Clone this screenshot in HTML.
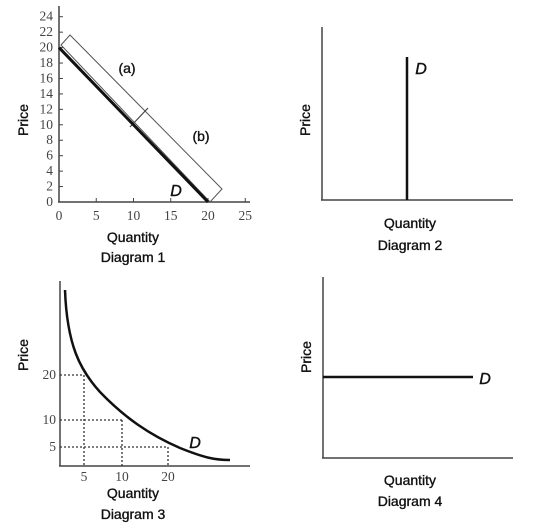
<!DOCTYPE html>
<html><head><meta charset="utf-8"><style>
html,body{margin:0;padding:0;background:#fff;}
svg{display:block;}
.ax{stroke:#444;stroke-width:1.5;fill:none}
.t{font-family:"Liberation Serif",serif;font-size:13.5px;fill:#444}
.l{font-family:"Liberation Sans",sans-serif;font-size:14px;fill:#111;stroke:#111;stroke-width:0.35}
.d{font-family:"Liberation Sans",sans-serif;font-size:16px;font-style:italic;fill:#111;stroke:#111;stroke-width:0.4}
</style></head><body>
<svg id="c" width="538" height="531" xmlns="http://www.w3.org/2000/svg">
<g id="d1">
<line class="ax" x1="59" y1="6" x2="59" y2="202"/>
<line class="ax" x1="58" y1="202" x2="250" y2="202"/>
<polygon points="61,45 70,35 222,189 210,202" fill="none" stroke="#555" stroke-width="1"/>
<line x1="130" y1="127" x2="148" y2="108" stroke="#444" stroke-width="1.2"/>
<text class="l" x="127" y="73" text-anchor="middle">(a)</text>
<text class="l" x="201" y="141" text-anchor="middle">(b)</text>
<text class="d" x="176" y="196" text-anchor="middle">D</text>
<text class="l" transform="translate(28,120) rotate(-90)" text-anchor="middle">Price</text>
<text class="l" x="133" y="242" text-anchor="middle">Quantity</text>
<text class="l" x="133" y="262" text-anchor="middle">Diagram 1</text>
</g>
<g>
<line class="ax" x1="322" y1="27" x2="322" y2="200"/>
<line class="ax" x1="321" y1="200" x2="513" y2="200"/>
<line x1="407" y1="57" x2="407" y2="200" stroke="#111" stroke-width="2.5"/>
<text class="d" x="421" y="74" text-anchor="middle">D</text>
<text class="l" transform="translate(310,120) rotate(-90)" text-anchor="middle">Price</text>
<text class="l" x="410" y="228" text-anchor="middle">Quantity</text>
<text class="l" x="410" y="250" text-anchor="middle">Diagram 2</text>
</g>
<g id="d3">
<line class="ax" x1="60" y1="281" x2="60" y2="466"/>
<line class="ax" x1="59" y1="466" x2="250" y2="466"/>
<path d="M65,290 C67,345 80,370 100,392 C125,418 150,435 180,448 C205,458 215,460 230,460" fill="none" stroke="#111" stroke-width="2.5"/>
<text class="d" x="195" y="448" text-anchor="middle">D</text>
<text class="l" transform="translate(28,355) rotate(-90)" text-anchor="middle">Price</text>
<text class="l" x="133" y="498" text-anchor="middle">Quantity</text>
<text class="l" x="133" y="519" text-anchor="middle">Diagram 3</text>
</g>
<g>
<line class="ax" x1="323" y1="277" x2="323" y2="458"/>
<line class="ax" x1="322" y1="458" x2="513" y2="458"/>
<line x1="323" y1="377" x2="473" y2="377" stroke="#111" stroke-width="2.5"/>
<text class="d" x="485" y="384" text-anchor="middle">D</text>
<text class="l" transform="translate(311,357) rotate(-90)" text-anchor="middle">Price</text>
<text class="l" x="410" y="485" text-anchor="middle">Quantity</text>
<text class="l" x="410" y="506" text-anchor="middle">Diagram 4</text>
</g>
</svg>
<script>
var d1XTicks = [0, 5, 10, 15, 20, 25];
var d1YTicks = [0, 2, 4, 6, 8, 10, 12, 14, 16, 18, 20, 22, 24];
var d1DemandQ = [0, 20];
var d1DemandP = [20, 0];
var d3PointsQ = [5, 10, 20];
var d3PointsP = [20, 10, 5];
var d3XTickLabels = ["5", "10", "20"];
var d3YTickLabels = ["20", "10", "5"];

var NS = "http://www.w3.org/2000/svg";
function x1s(v){return 59 + v*7.45;}
function y1s(v){return 202 - v*7.72;}
var d3XMap = {5:84, 10:122, 20:168};
var d3YMap = {20:375, 10:420, 5:447};
function x3s(v){return d3XMap[v];}
function y3s(v){return d3YMap[v];}
function mk(tag, attrs, parent){var e=document.createElementNS(NS,tag);for(var k in attrs)e.setAttribute(k,attrs[k]);parent.appendChild(e);return e;}

var g1 = document.getElementById("d1");
d1XTicks.forEach(function(v){
  var t = mk("line",{x1:x1s(v),y1:202,x2:x1s(v),y2:198,stroke:"#444"},g1);
  
  
  var tx = mk("text",{x:x1s(v),y:220,"text-anchor":"middle","class":"t"},g1);
  tx.textContent = v;
  
  
});
d1YTicks.forEach(function(v){
  var t = mk("line",{x1:59,y1:y1s(v),x2:63,y2:y1s(v),stroke:"#444"},g1);
  
  
  var tx = mk("text",{x:53,y:y1s(v)+4,"text-anchor":"end","class":"t"},g1);
  tx.textContent = v;
  
  
});
var dl = mk("line",{x1:x1s(d1DemandQ[0]),y1:y1s(d1DemandP[0]),x2:x1s(d1DemandQ[1]),y2:y1s(d1DemandP[1]),stroke:"#111","stroke-width":3},g1);



var g3 = document.getElementById("d3");
d3PointsQ.forEach(function(q,i){
  var p = d3PointsP[i];
  var h = mk("line",{x1:60,y1:y3s(p),x2:x3s(q),y2:y3s(p),stroke:"#333","stroke-width":1.3,"stroke-dasharray":"2,2"},g3);
  
  
  var v = mk("line",{x1:x3s(q),y1:y3s(p),x2:x3s(q),y2:466,stroke:"#333","stroke-width":1.3,"stroke-dasharray":"2,2"},g3);
  
  
});
d3PointsQ.forEach(function(q,i){
  var tx = mk("text",{x:x3s(q),y:481,"text-anchor":"middle","class":"t"},g3);
  tx.textContent = d3XTickLabels[i];
  
  
});
d3PointsP.forEach(function(p,i){
  var tx = mk("text",{x:56,y:y3s(p)+4,"text-anchor":"end","class":"t"},g3);
  tx.textContent = d3YTickLabels[i];
  
  
});
</script>
</body></html>
